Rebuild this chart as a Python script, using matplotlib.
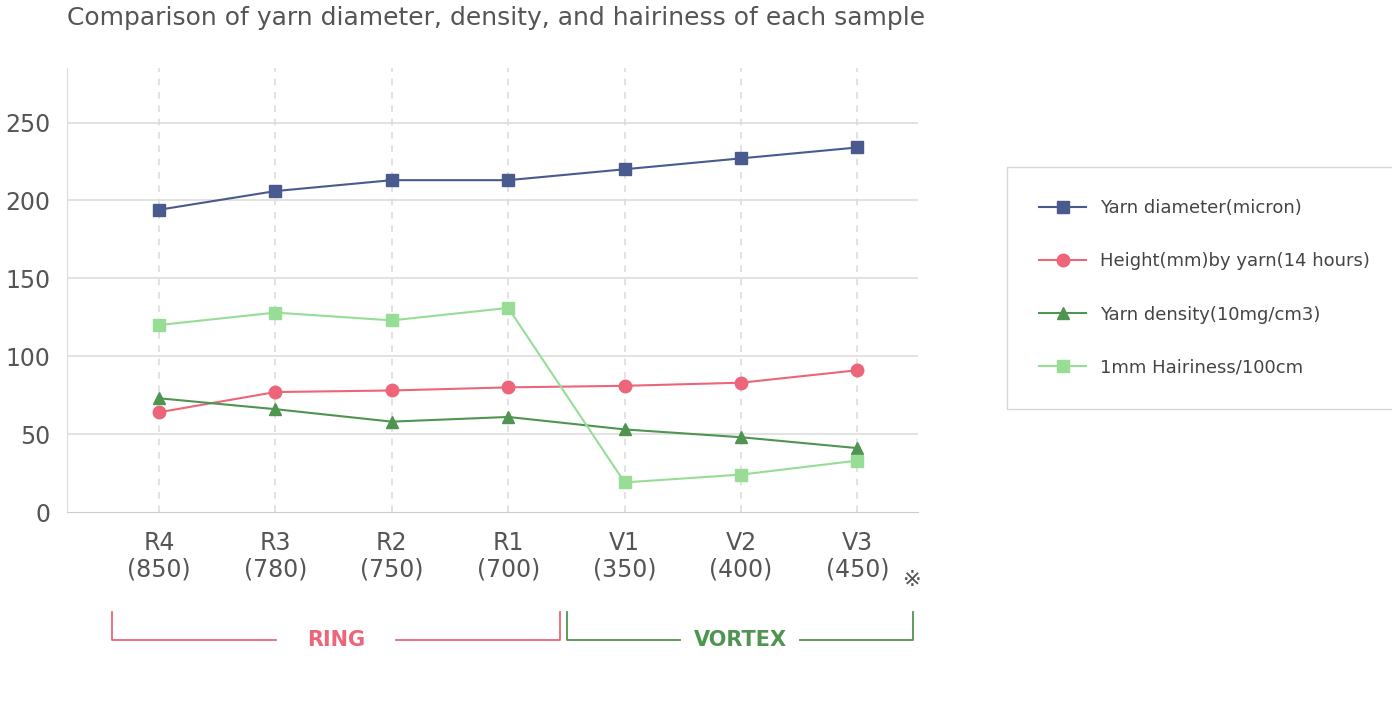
import matplotlib
matplotlib.use("Agg")
import matplotlib.pyplot as plt

categories = ["R4\n(850)", "R3\n(780)", "R2\n(750)", "R1\n(700)", "V1\n(350)", "V2\n(400)", "V3\n(450)"]
diameter = [194, 206, 213, 213, 220, 227, 234]
height = [64, 77, 78, 80, 81, 83, 91]
density = [73, 66, 58, 61, 53, 48, 41]
hairiness = [120, 128, 123, 131, 19, 24, 33]
yticks = [0, 50, 100, 150, 200, 250]

W, H = 1392, 718
fig = plt.figure(figsize=(W/100, H/100), dpi=100)
ax = fig.add_axes([67/W, 1-512/H, (918-67)/W, (512-68)/H])
x = list(range(len(categories)))
ax.plot(x, diameter, color="#485a8e", marker="s", ms=9, lw=1.5, label="Yarn diameter(micron)")
ax.plot(x, height, color="#ec6578", marker="o", ms=9, lw=1.5, label="Height(mm)by yarn(14 hours)")
ax.plot(x, density, color="#4f9450", marker="^", ms=9, lw=1.5, label="Yarn density(10mg/cm3)")
ax.plot(x, hairiness, color="#98dd96", marker="s", ms=9, lw=1.5, label="1mm Hairiness/100cm")
ax.set_xlim(-0.79, 6.52)
ax.set_ylim(0, 285)
ax.set_yticks(yticks)
ax.set_xticks(x)
ax.set_xticklabels(categories)
for t in x:
    ax.axvline(t, color="#dddddd", ls=(0, (4, 4)), lw=1.2, zorder=0)
for v in yticks[1:]:
    ax.axhline(v, color="#dddddd", lw=1.2, zorder=0)
for s in ["top", "right"]:
    ax.spines[s].set_visible(False)
ax.spines["left"].set_color("#dddddd")
ax.spines["bottom"].set_color("#cccccc")
ax.tick_params(length=0, colors="#555555", labelsize=17, pad=14)
ax.tick_params(axis="y", pad=12)
for lab in ax.get_xticklabels():
    lab.set_linespacing(1.1)
fig.text(903/W, 1-580/H, "※", fontsize=16, color="#555555", ha="left", va="center")
fig.text(67/W, 1-18/H, "Comparison of yarn diameter, density, and hairiness of each sample",
         fontsize=18, color="#555555", ha="left", va="center")
leg = fig.legend(loc="upper left", bbox_to_anchor=(1003/W, 1-163/H), frameon=True, fontsize=13,
                 labelspacing=1.95, borderpad=1.5, handlelength=2.6, labelcolor="#444444")
leg.get_frame().set_edgecolor("#cccccc")
leg.get_frame().set_boxstyle("square")

def bracket(x0, x1, text, color):
    y = 1-640/H; yt = 1-612/H
    xm = (x0+x1)/2
    fig.add_artist(plt.Line2D([x0/W, x0/W, (xm-60)/W], [yt, y, y], color=color, lw=1.3))
    fig.add_artist(plt.Line2D([(xm+60)/W, x1/W, x1/W], [y, y, yt], color=color, lw=1.3))
    fig.text(xm/W, y, text, color=color, fontsize=15, fontweight="bold", ha="center", va="center")

bracket(112, 560, "RING", "#ec6578")
bracket(567, 913, "VORTEX", "#4f9450")
fig.savefig("out.png", dpi=100)
